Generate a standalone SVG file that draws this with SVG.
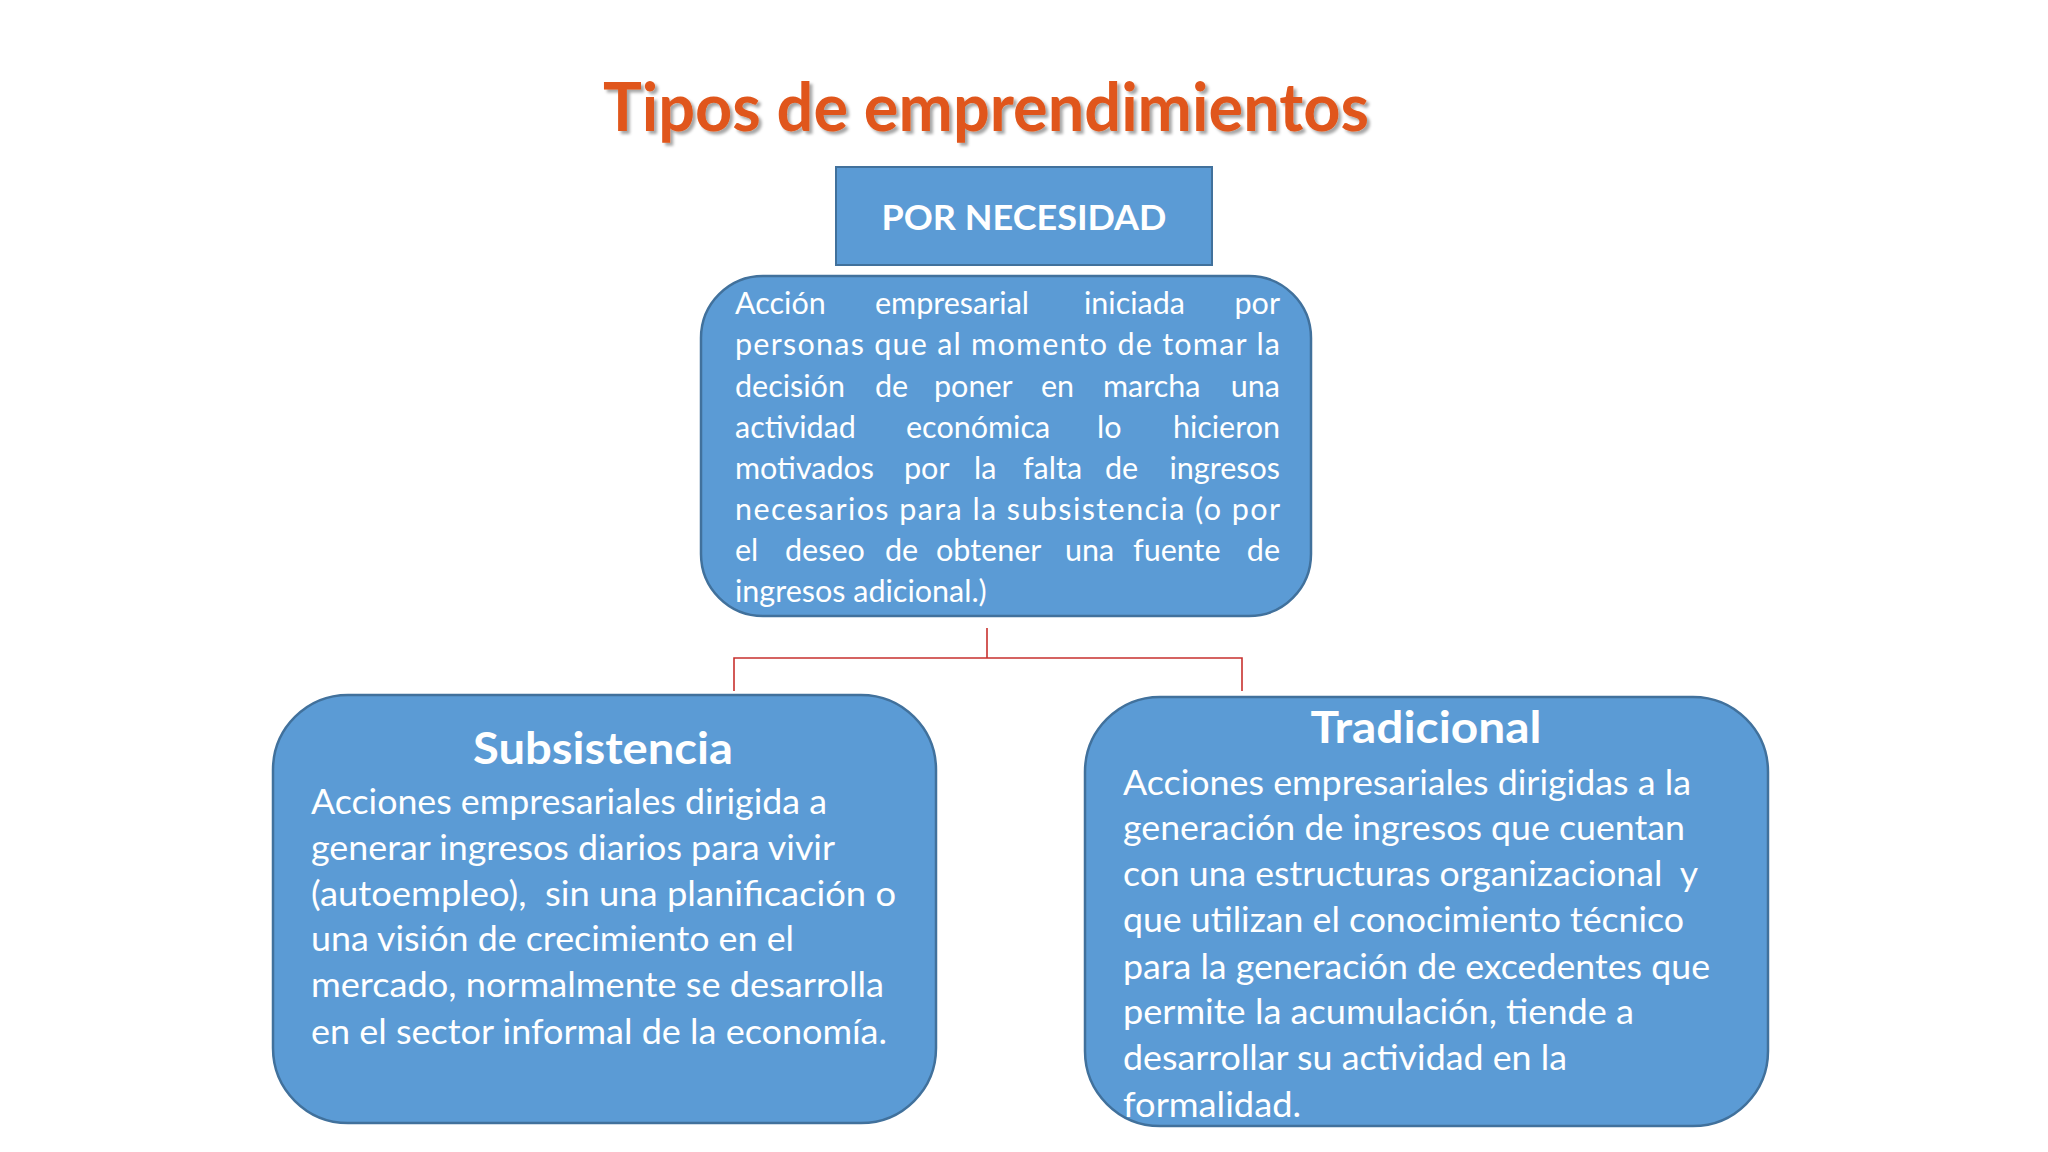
<svg xmlns="http://www.w3.org/2000/svg" width="2048" height="1152" viewBox="0 0 2048 1152">
<defs>
<style>
.box{fill:#5B9BD5;stroke:#41719C;stroke-width:2.5}
.t{fill:#FFFFFF;font-family:Lato,"Open Sans",sans-serif}
.c{font-size:30.5px}
.b{font-size:35px}
.h{font-weight:bold}
.conn{fill:none;stroke:#C8312E;stroke-width:1.6}
</style>
<filter id="sh" x="-5%" y="-20%" width="110%" height="140%">
<feGaussianBlur in="SourceAlpha" stdDeviation="1.5"/>
<feOffset dx="3" dy="3" result="o"/>
<feFlood flood-color="#000" flood-opacity="0.35"/>
<feComposite in2="o" operator="in"/>
<feMerge><feMergeNode/><feMergeNode in="SourceGraphic"/></feMerge>
</filter>
</defs>
<rect width="2048" height="1152" fill="#FFFFFF"/>
<g id="title">
<text x="603" y="131" font-family="Lato,'Open Sans',sans-serif" font-weight="bold" font-size="66" fill="#E0561B" textLength="766" lengthAdjust="spacingAndGlyphs" filter="url(#sh)">Tipos de emprendimientos</text>
</g>
<g id="connectors">
<path class="conn" d="M987,628 V658 M734,691 V658 H1242 V691"/>
</g>
<g id="por-necesidad">
<rect x="836" y="167" width="376" height="98" fill="#5B9BD5" stroke="#41719C" stroke-width="2"/>
<text class="t h" x="1024" y="230" font-size="35" text-anchor="middle" textLength="285" lengthAdjust="spacingAndGlyphs">POR NECESIDAD</text>
</g>
<g id="definicion">
<rect class="box" x="701" y="276" width="610" height="340" rx="62" ry="62"/>
<g class="t c">
<text x="735" y="314">Acción</text><text x="875" y="314">empresarial</text><text x="1084" y="314">iniciada</text><text x="1280" y="314" text-anchor="end">por</text>
<text x="735" y="355" textLength="545" lengthAdjust="spacing">personas que al momento de tomar la</text>
<text x="735" y="397">decisión</text><text x="875" y="397">de</text><text x="934" y="397">poner</text><text x="1041" y="397">en</text><text x="1103" y="397">marcha</text><text x="1280" y="397" text-anchor="end">una</text>
<text x="735" y="438">actividad</text><text x="906" y="438">económica</text><text x="1097" y="438">lo</text><text x="1280" y="438" text-anchor="end">hicieron</text>
<text x="735" y="479">motivados</text><text x="904" y="479">por</text><text x="974" y="479">la</text><text x="1023" y="479">falta</text><text x="1105" y="479">de</text><text x="1280" y="479" text-anchor="end">ingresos</text>
<text x="735" y="520" textLength="545" lengthAdjust="spacing">necesarios para la subsistencia (o por</text>
<text x="735" y="561">el</text><text x="785" y="561">deseo</text><text x="885" y="561">de</text><text x="936" y="561">obtener</text><text x="1065" y="561">una</text><text x="1133" y="561">fuente</text><text x="1280" y="561" text-anchor="end">de</text>
<text x="735" y="602">ingresos adicional.)</text>
</g>
</g>
<g id="subsistencia">
<rect class="box" x="273" y="695" width="663" height="428" rx="75" ry="75"/>
<text class="t h" x="603" y="764" font-size="44" text-anchor="middle" textLength="260" lengthAdjust="spacingAndGlyphs">Subsistencia</text>
<g class="t b">
<text x="311" y="814" textLength="516" lengthAdjust="spacingAndGlyphs">Acciones empresariales dirigida a</text>
<text x="311" y="860" textLength="524" lengthAdjust="spacingAndGlyphs">generar ingresos diarios para vivir</text>
<text x="311" y="906" textLength="585" lengthAdjust="spacingAndGlyphs" xml:space="preserve">(autoempleo),  sin una planificación o</text>
<text x="311" y="951" textLength="483" lengthAdjust="spacingAndGlyphs">una visión de crecimiento en el</text>
<text x="311" y="997" textLength="573" lengthAdjust="spacingAndGlyphs">mercado, normalmente se desarrolla</text>
<text x="311" y="1044" textLength="576" lengthAdjust="spacingAndGlyphs">en el sector informal de la economía.</text>
</g>
</g>
<g id="tradicional">
<rect class="box" x="1085" y="697" width="683" height="429" rx="75" ry="75"/>
<text class="t h" x="1426" y="743" font-size="44" text-anchor="middle" textLength="231" lengthAdjust="spacingAndGlyphs">Tradicional</text>
<g class="t b">
<text x="1123" y="795" textLength="568" lengthAdjust="spacingAndGlyphs">Acciones empresariales dirigidas a la</text>
<text x="1123" y="840" textLength="562" lengthAdjust="spacingAndGlyphs">generación de ingresos que cuentan</text>
<text x="1123" y="886" textLength="575" lengthAdjust="spacingAndGlyphs" xml:space="preserve">con una estructuras organizacional  y</text>
<text x="1123" y="932" textLength="561" lengthAdjust="spacingAndGlyphs">que utilizan el conocimiento técnico</text>
<text x="1123" y="979" textLength="587" lengthAdjust="spacingAndGlyphs">para la generación de excedentes que</text>
<text x="1123" y="1024" textLength="511" lengthAdjust="spacingAndGlyphs">permite la acumulación, tiende a</text>
<text x="1123" y="1070" textLength="444" lengthAdjust="spacingAndGlyphs">desarrollar su actividad en la</text>
<text x="1123" y="1117" textLength="178" lengthAdjust="spacingAndGlyphs">formalidad.</text>
</g>
</g>
</svg>
